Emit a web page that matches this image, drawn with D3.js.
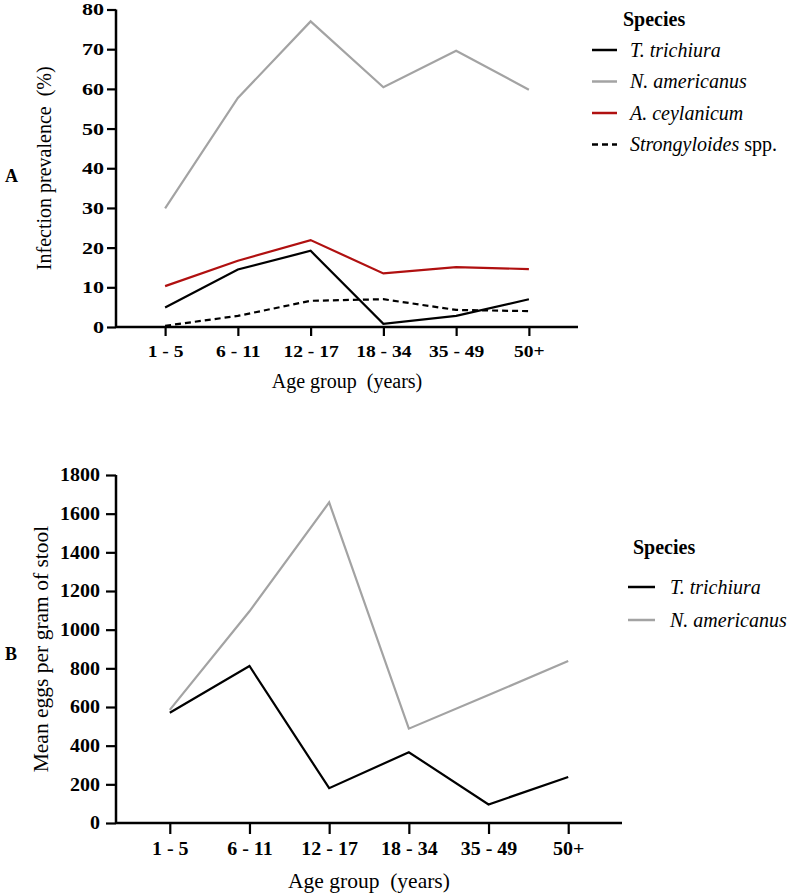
<!DOCTYPE html>
<html><head><meta charset="utf-8">
<script src="https://cdn.jsdelivr.net/npm/d3@7"></script>
</head><body style="margin:0;background:#fff"><svg id="c" width="800" height="895" font-family="Liberation Serif" style="display:block"></svg>
<script>
const ageGroups = ["1 - 5","6 - 11","12 - 17","18 - 34","35 - 49","50+"];
const prevTrichiura = [4.9,14.5,19.2,0.8,2.8,7.0];
const prevAmericanus = [29.9,57.7,77.0,60.4,69.6,59.8];
const prevCeylanicum = [10.3,16.7,21.9,13.5,15.1,14.6];
const prevStrongyloides = [0.3,2.8,6.6,7.0,4.3,4.0];
const epgTrichiura = [570,812,180,366,96,238];
const epgAmericanus = [585,1095,1658,488,662,838];
const prevTicks = [0,10,20,30,40,50,60,70,80];
const epgTicks = [0,200,400,600,800,1000,1200,1400,1600,1800];

const FONT = "Liberation Serif";
const svg = d3.select("#c");
const GRAY = "#a3a3a3", RED = "#b01010", BLACK = "#000";

function panel(o){
  const g = svg.append("g");
  const x = d3.scalePoint().domain(ageGroups).range([o.x0,o.x1]).padding(0.675);
  const y = d3.scaleLinear().domain([0,o.ymax]).range([o.yb,o.yt]);
  // y axis
  const ya = g.append("g").attr("transform",`translate(${o.x0},0)`)
    .call(d3.axisLeft(y).tickValues(o.yticks).tickFormat(d3.format("d")).tickSize(o.ytick).tickPadding(o.ypad));
  ya.attr("font-family",FONT);
  ya.select(".domain").attr("stroke-width",2.5).attr("d",`M0,${o.yt}V${o.yb}`);
  ya.selectAll(".tick line").attr("stroke-width",2.2);
  const ax = -(o.ytick+o.ypad);
  ya.selectAll("text").attr("font-family",FONT).attr("font-size",o.fs).attr("font-weight","bold").attr("fill","#000")
    .attr("transform",`translate(${ax},0) scale(${o.ysx},1) translate(${-ax},0)`);
  // x axis
  const xa = g.append("g").attr("transform",`translate(0,${o.yb})`)
    .call(d3.axisBottom(x).tickSize(o.xtick).tickPadding(o.xpad));
  xa.attr("font-family",FONT);
  xa.select(".domain").attr("stroke-width",2.5).attr("d",`M${o.x0},0H${o.x1}`);
  xa.selectAll(".tick line").attr("stroke-width",2.2);
  xa.selectAll("text").attr("font-family",FONT).attr("font-size",o.fs).attr("font-weight","bold").attr("fill","#000")
    .attr("transform",`scale(${o.xsx},1)`);
  // series
  const line = d3.line().x((d,i)=>x(ageGroups[i])).y(d=>y(d));
  o.series.forEach(s=>{
    g.append("path").datum(s.values).attr("d",line).attr("fill","none")
      .attr("stroke",s.color).attr("stroke-width",2.2).attr("stroke-dasharray",s.dash||null)
      .attr("stroke-linejoin","miter");
  });
  // titles
  g.append("text").attr("font-family",FONT).attr("x",(o.x0+o.x1)/2).attr("y",o.xtitleY).attr("text-anchor","middle")
    .attr("font-size",o.tfs).text("Age group\u00a0\u00a0(years)");
  g.append("text").attr("font-family",FONT).attr("transform",`translate(${o.ytitleX},${(o.yt+o.yb)/2}) rotate(-90)`)
    .attr("text-anchor","middle").attr("font-size",o.tfs).text(o.ytitle);
  g.append("text").attr("font-family",FONT).attr("x",5).attr("y",o.letterY).attr("font-size",18).attr("font-weight","bold").text(o.letter);
  // legend
  const L = o.legend;
  g.append("text").attr("font-family",FONT).attr("x",L.x).attr("y",L.y).attr("font-size",L.fs).attr("font-weight","bold").text("Species");
  o.series.forEach((s,i)=>{
    const yy = L.y + L.dy0 + i*L.dy;
    g.append("line").attr("x1",L.lx0).attr("x2",L.lx1).attr("y1",yy).attr("y2",yy)
      .attr("stroke",s.color).attr("stroke-width",2.5).attr("stroke-dasharray",s.dash||null);
    const t = g.append("text").attr("font-family",FONT).attr("x",L.tx).attr("y",yy+L.fs*0.33).attr("font-size",L.fs);
    t.append("tspan").attr("font-style","italic").text(s.name);
    if(s.suffix) t.append("tspan").text(s.suffix);
  });
}

panel({x0:116,x1:578,yt:9.5,yb:327,ymax:80,yticks:prevTicks,fs:17,
  ytick:9,ypad:3,ysx:1.3,xtick:9,xpad:9,xsx:1.15,tfs:20,
  xtitleY:388,ytitleX:51,ytitle:"Infection prevalence\u00a0\u00a0(%)",letter:"A",letterY:182,
  series:[
    {name:"T. trichiura",values:prevTrichiura,color:BLACK},
    {name:"N. americanus",values:prevAmericanus,color:GRAY},
    {name:"A. ceylanicum",values:prevCeylanicum,color:RED},
    {name:"Strongyloides",suffix:" spp.",values:prevStrongyloides,color:BLACK,dash:"6,4"}
  ],
  legend:{x:623,y:26,fs:20,dy0:24,dy:31.5,lx0:592,lx1:617,tx:630}
});

panel({x0:116,x1:622,yt:475,yb:823,ymax:1800,yticks:epgTicks,fs:18.5,
  ytick:10,ypad:6,ysx:1.08,xtick:11,xpad:8,xsx:1.08,tfs:21.5,
  xtitleY:888,ytitleX:48,ytitle:"Mean eggs per gram of stool",letter:"B",letterY:660,
  series:[
    {name:"T. trichiura",values:epgTrichiura,color:BLACK},
    {name:"N. americanus",values:epgAmericanus,color:GRAY}
  ],
  legend:{x:633,y:554,fs:20,dy0:33,dy:33,lx0:628,lx1:655,tx:670}
});
</script></body></html>
